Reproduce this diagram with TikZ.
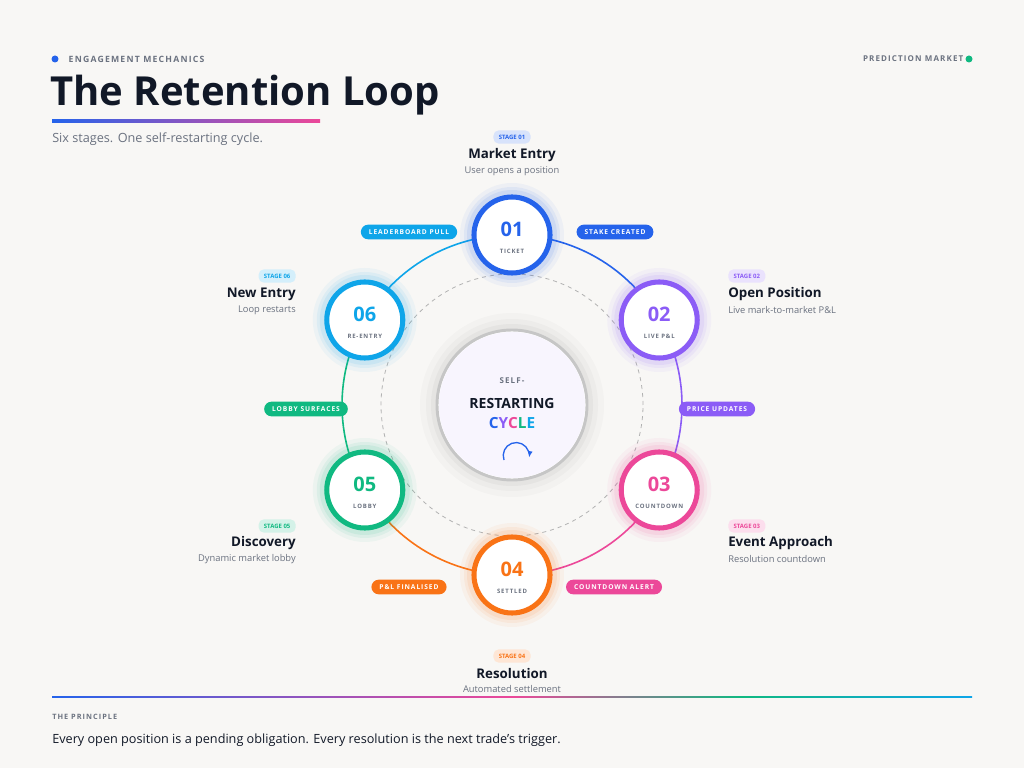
\documentclass[tikz,border=0pt]{standalone}
\usepackage{fontspec}
\setmainfont{Open Sans}
\usetikzlibrary{arrows.meta,positioning,calc}
\definecolor{bgc}{HTML}{F8F7F5}
\definecolor{ink}{HTML}{111827}
\definecolor{mute}{HTML}{6B7280}
\definecolor{cblue}{HTML}{2563EB}
\definecolor{cpurple}{HTML}{8B5CF6}
\definecolor{cpink}{HTML}{EC4899}
\definecolor{corange}{HTML}{F97316}
\definecolor{cgreen}{HTML}{10B981}
\definecolor{ccyan}{HTML}{0EA5E9}
\newcommand{\spaced}[1]{{\addfontfeature{LetterSpace=14}#1}}

\begin{document}
\begin{tikzpicture}[x=0.75pt, y=0.75pt,
        stagering/.style={circle, draw=#1, line width=3.8pt, fill=white, minimum size=57pt, inner sep=0pt},
        pill/.style={rounded corners=5.5pt, fill=#1, text=white, font=\bfseries\fontsize{5}{6}\selectfont, inner xsep=6pt, minimum height=11pt},
        stagetag/.style={rounded corners=4pt, fill=#1!18, text=#1, font=\bfseries\fontsize{4.5}{5}\selectfont, inner xsep=4pt, minimum height=8pt},
        stagetitle/.style={font=\bfseries\fontsize{10}{12}\selectfont, text=ink, inner sep=0pt},
        stagesub/.style={font=\fontsize{7}{8}\selectfont, text=mute, inner sep=0pt},
        >={Latex}
    ]
    \useasboundingbox (0,0) rectangle (1024,768);
    \fill[bgc] (0,0) rectangle (1024,768);
    \coordinate (hub) at (512,363);

    % header
    \fill[cblue] (55,709) circle (3.5);
    \node[anchor=west, text=mute, font=\bfseries\fontsize{6.5}{8}\selectfont] (kicker) at (64,709) {\spaced{ENGAGEMENT MECHANICS}};
    \node[anchor=west, text=ink, font=\bfseries\fontsize{30}{34}\selectfont, inner sep=0pt] (title) at (50,673) {The Retention Loop};
    \shade[left color=cblue, right color=cpink] (52,645) rectangle (320,648);
    \node[anchor=west, text=mute, font=\fontsize{9.5}{11}\selectfont, inner sep=0pt] (subtitle) at (52,629) {Six stages. One self-restarting cycle.};
    \node[anchor=east, text=mute, font=\bfseries\fontsize{6}{8}\selectfont] (market) at (968,709) {\spaced{PREDICTION MARKET}};
    \fill[cgreen] (969,709) circle (3.5);

    % dashed inner ring and centre
    \draw[gray!60, dashed, line width=0.6pt] (hub) circle (131);
    \foreach \r/\o in {92/0.04, 86/0.05, 81/0.07} {
        \fill[gray, opacity=\o] (hub) circle (\r);
    }
    \filldraw[fill=white, draw=gray!45, line width=2.2pt] (hub) circle (75);
    \fill[cpurple!6] (hub) circle (73);
    \node[text=mute, font=\bfseries\fontsize{6}{7}\selectfont] (self) at (512,387) {\spaced{SELF-}};
    \node[text=ink, font=\bfseries\fontsize{10.5}{12}\selectfont] (restart) at (512,364) {RESTARTING};
    \node[font=\bfseries\fontsize{11.5}{13}\selectfont] (cycle) at (512,345) {\textcolor{cblue}{C}\textcolor{cpurple}{Y}\textcolor{cpink}{C}\textcolor{cgreen}{L}\textcolor{ccyan}{E}};
    \draw[cblue, line width=1pt, -{Latex[length=5pt]}] (hub) ++(-8,-55) arc[start angle=200, end angle=-10, radius=13];

    % loop arcs
    \foreach \a/\c in {90/cblue, 30/cpurple, -30/cpink, -90/corange, -150/cgreen, 150/ccyan} {
        \draw[\c, line width=1.2pt] (hub) ++(\a:170) arc[start angle=\a, end angle=\a-60, radius=170];
    }

    % stage rings
    \foreach \n/\a/\c/\lbl in {01/90/cblue/TICKET, 02/30/cpurple/LIVE P\&L, 03/-30/cpink/COUNTDOWN,
                               04/-90/corange/SETTLED, 05/-150/cgreen/LOBBY, 06/150/ccyan/RE-ENTRY} {
        \foreach \r/\o in {52/0.05, 48/0.07, 45/0.09} {
            \fill[\c, opacity=\o] (hub) ++(\a:170) circle (\r);
        }
        \node[stagering=\c] (s\n) at ($(hub)+(\a:170)$) {};
        \node[text=\c, font=\bfseries\fontsize{15}{16}\selectfont] at ([yshift=4]s\n.center) {\n};
        \node[text=mute, font=\bfseries\fontsize{4.5}{5}\selectfont] at ([yshift=-12]s\n.center) {\spaced{\lbl}};
    }

    % transition pills
    \node[pill=cblue] (p12) at (615,536) {\spaced{STAKE CREATED}};
    \node[pill=cpurple] (p23) at (717,359) {\spaced{PRICE UPDATES}};
    \node[pill=cpink] (p34) at (614,181) {\spaced{COUNTDOWN ALERT}};
    \node[pill=corange] (p45) at (409,181) {\spaced{P\&L FINALISED}};
    \node[pill=cgreen] (p56) at (306,359) {\spaced{LOBBY SURFACES}};
    \node[pill=ccyan] (p61) at (409,536) {\spaced{LEADERBOARD PULL}};

    % stage captions
    \node[stagetag=cblue] (t01) at (512,631) {STAGE 01};
    \node[stagetitle] (h01) at (512,613) {Market Entry};
    \node[stagesub] (d01) at (512,597) {User opens a position};

    \node[stagetag=cpurple, anchor=west] (t02) at (728,492) {STAGE 02};
    \node[stagetitle, anchor=west] (h02) at (728,474) {Open Position};
    \node[stagesub, anchor=west] (d02) at (728,458) {Live mark-to-market P\&L};

    \node[stagetag=cpink, anchor=west] (t03) at (728,242) {STAGE 03};
    \node[stagetitle, anchor=west] (h03) at (728,225) {Event Approach};
    \node[stagesub, anchor=west] (d03) at (728,209) {Resolution countdown};

    \node[stagetag=corange] (t04) at (512,112) {STAGE 04};
    \node[stagetitle] (h04) at (512,95) {Resolution};
    \node[stagesub] (d04) at (512,79) {Automated settlement};

    \node[stagetag=cgreen, anchor=east] (t05) at (296,242) {STAGE 05};
    \node[stagetitle, anchor=east] (h05) at (296,225) {Discovery};
    \node[stagesub, anchor=east] (d05) at (296,209) {Dynamic market lobby};

    \node[stagetag=ccyan, anchor=east] (t06) at (296,492) {STAGE 06};
    \node[stagetitle, anchor=east] (h06) at (296,474) {New Entry};
    \node[stagesub, anchor=east] (d06) at (296,458) {Loop restarts};

    % footer
    \shade[left color=cblue, right color=cpink] (52,70.5) rectangle (512,71.8);
    \shade[left color=cpink, right color=ccyan, middle color=cgreen] (512,70.5) rectangle (972,71.8);
    \node[anchor=west, text=mute, font=\bfseries\fontsize{5.5}{7}\selectfont, inner sep=0pt] (principle) at (52,51) {\spaced{THE PRINCIPLE}};
    \node[anchor=west, text=ink, font=\fontsize{9.5}{11}\selectfont, inner sep=0pt] (motto) at (52,28) {Every open position is a pending obligation. Every resolution is the next trade's trigger.};
\end{tikzpicture}
\end{document}
